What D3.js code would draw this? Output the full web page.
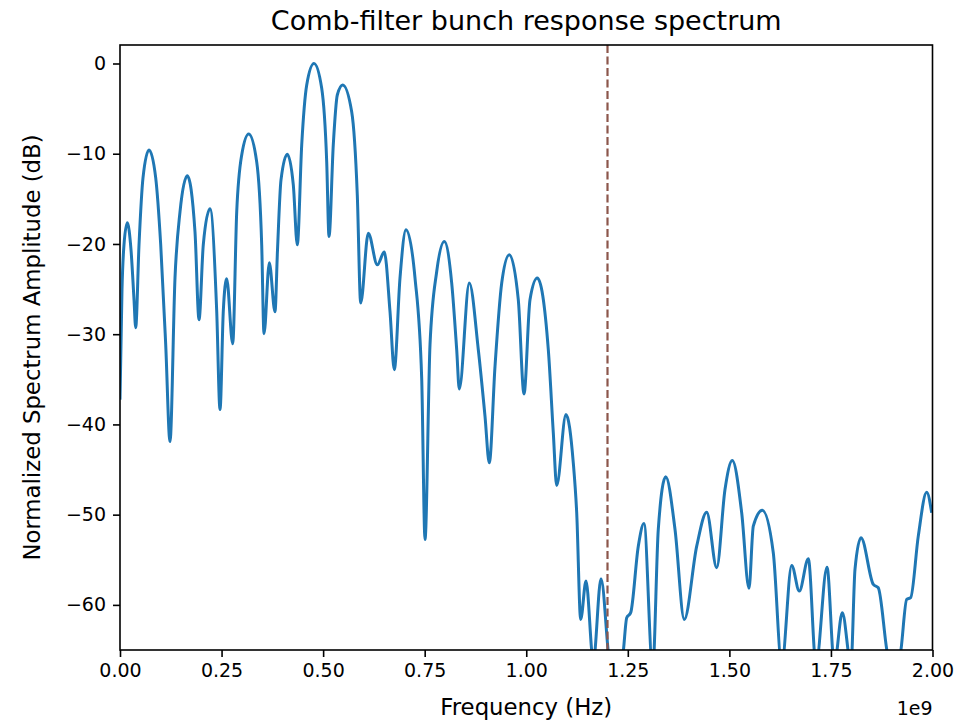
<!DOCTYPE html>
<html>
<head>
<meta charset="utf-8">
<script src="https://cdn.jsdelivr.net/npm/d3@7"></script>
<style>
  body { margin: 0; background: #fff; }
  svg text { font-family: "DejaVu Sans", sans-serif; fill: #000; }
</style>
</head>
<body>
<div id="chart"></div>
<script>
// frequency in units of 1e9 Hz
var freqs = [0.000, 0.0049, 0.0098, 0.0180, 0.0271, 0.0345, 0.0386, 0.0468, 0.0566, 0.0714,
  0.0879, 0.1002, 0.1125, 0.1231, 0.1354, 0.1477, 0.1657, 0.1846, 0.1945, 0.2050,
  0.2215, 0.2380, 0.2462, 0.2543, 0.2626, 0.2774, 0.2873, 0.2996, 0.3168, 0.3365,
  0.3488, 0.3545, 0.3675, 0.3815, 0.3877, 0.3963, 0.4118, 0.4266, 0.4364, 0.4473,
  0.4596, 0.4775, 0.4965, 0.5088, 0.5145, 0.5250, 0.5349, 0.5482, 0.5703, 0.5841,
  0.5925, 0.6112, 0.6334, 0.6506, 0.6646, 0.6752, 0.6892, 0.7040, 0.7262, 0.7426,
  0.7508, 0.7631, 0.7796, 0.7983, 0.8165, 0.8288, 0.8352, 0.8598, 0.8820, 0.8985,
  0.9090, 0.9231, 0.9396, 0.9583, 0.9804, 0.9945, 1.0092, 1.0272, 1.0543, 1.0666,
  1.0749, 1.0978, 1.1158, 1.1242, 1.1340, 1.1471, 1.1651, 1.1840, 1.2044, 1.2209,
  1.2389, 1.2473, 1.2571, 1.2758, 1.2898, 1.3113, 1.3250, 1.3433, 1.3662, 1.3890,
  1.4196, 1.4442, 1.4688, 1.4892, 1.5072, 1.5303, 1.5483, 1.5589, 1.5810, 1.6081,
  1.6288, 1.6534, 1.6721, 1.6943, 1.7132, 1.7403, 1.7583, 1.7780, 1.7994, 1.8092,
  1.8240, 1.8543, 1.8665, 1.8873, 1.9052, 1.9225, 1.9365, 1.9463, 1.9650, 1.9857,
  1.9980];

// normalized amplitude in dB
var amps = [-37.25, -25.07, -20.09, -17.66, -20.65, -26.18, -29.28, -20.09, -12.68, -9.58,
  -12.68, -20.09, -31.16, -41.90, -23.75, -16.44, -12.45, -18.65, -28.40, -20.09,
  -16.11, -27.40, -38.36, -27.40, -23.86, -31.05, -16.44, -10.13, -7.80, -10.90,
  -20.09, -29.94, -22.08, -27.51, -20.65, -12.90, -10.05, -13.45, -20.09, -9.02,
  -2.38, 0.00, -2.75, -10.87, -19.17, -9.02, -3.49, -2.38, -5.34, -14.56,
  -26.55, -18.80, -22.31, -20.90, -27.48, -33.93, -23.78, -18.43, -23.78, -34.85,
  -52.75, -31.16, -23.05, -19.73, -24.33, -31.72, -36.07, -24.33, -31.72, -39.10,
  -44.26, -33.56, -24.33, -21.20, -26.18, -36.62, -26.18, -23.78, -31.72, -40.94,
  -46.77, -38.91, -44.26, -49.79, -61.61, -57.36, -66.25, -57.10, -66.25, -69.35,
  -65.15, -61.42, -60.86, -53.49, -50.98, -67.14, -51.64, -45.81, -51.64, -61.61,
  -53.49, -49.73, -55.88, -47.21, -44.00, -49.79, -58.17, -51.28, -49.51, -54.22,
  -66.59, -55.63, -58.47, -54.89, -66.59, -55.82, -66.59, -60.86, -66.59, -56.07,
  -52.56, -57.73, -58.10, -64.93, -69.35, -64.93, -59.39, -59.20, -52.38, -47.51,
  -49.79];

var xTicks = [0, 0.25, 0.5, 0.75, 1.0, 1.25, 1.5, 1.75, 2.0];
var xTickLabels = ["0.00", "0.25", "0.50", "0.75", "1.00", "1.25", "1.50", "1.75", "2.00"];
var yTicks = [0, -10, -20, -30, -40, -50, -60];
var cutoff = [1.2];

var W = 973, H = 723;
var margin = {top: 45, right: 40.5, bottom: 73, left: 120};
var width = W - margin.left - margin.right;
var height = H - margin.top - margin.bottom;

var svg = d3.select("#chart").append("svg")
  .attr("width", W)
  .attr("height", H);

var g = svg.append("g")
  .attr("transform", "translate(" + margin.left + "," + margin.top + ")");

var x = d3.scaleLinear().domain([0, 2.0]).range([0, width]);
var y = d3.scaleLinear().domain([-65, 2.05]).range([height, 0]);

g.append("clipPath").attr("id", "clip")
  .append("rect").attr("width", width).attr("height", height);

var data = freqs.map(function(f, i) { return {f: f, a: amps[i]}; });

var line = d3.line()
  .curve(d3.curveMonotoneX)
  .x(function(d) { return x(d.f); })
  .y(function(d) { return y(d.a); });

g.append("path")
  .datum(data)
  .attr("clip-path", "url(#clip)")
  .attr("fill", "none")
  .attr("stroke", "#1f77b4")
  .attr("stroke-width", 3)
  .attr("stroke-linejoin", "round")
  .attr("d", line);

// cutoff marker
g.selectAll(".cut")
  .data(cutoff)
  .enter().append("line")
  .attr("class", "cut")
  .attr("x1", function(d) { return x(d); })
  .attr("x2", function(d) { return x(d); })
  .attr("y1", 0)
  .attr("y2", height)
  .attr("stroke", "#8c564b")
  .attr("stroke-width", 2.2)
  .attr("stroke-dasharray", "8,3.5");

// axes
var xAxis = d3.axisBottom(x)
  .tickValues(xTicks)
  .tickFormat(function(d, i) { return xTickLabels[i]; })
  .tickSize(7)
  .tickPadding(7);

var yAxis = d3.axisLeft(y)
  .tickValues(yTicks)
  .tickFormat(function(d) { return d < 0 ? "\u2212" + Math.abs(d) : d; })
  .tickSize(7)
  .tickPadding(7);

var gx = g.append("g")
  .attr("transform", "translate(0," + height + ")")
  .call(xAxis);
var gy = g.append("g").call(yAxis);

[gx, gy].forEach(function(ax) {
  ax.select(".domain").remove();
  ax.selectAll(".tick line").attr("stroke", "#000").attr("stroke-width", 1.6);
  ax.selectAll(".tick text").style("font-size", "19px").attr("fill", "#000");
});

// frame
g.append("rect")
  .attr("width", width)
  .attr("height", height)
  .attr("fill", "none")
  .attr("stroke", "#000")
  .attr("stroke-width", 1.6);

// labels
svg.append("text")
  .attr("x", margin.left + width / 2)
  .attr("y", 30)
  .attr("text-anchor", "middle")
  .style("font-size", "27px")
  .text("Comb-filter bunch response spectrum");

svg.append("text")
  .attr("x", margin.left + width / 2)
  .attr("y", 715)
  .attr("text-anchor", "middle")
  .style("font-size", "22.8px")
  .text("Frequency (Hz)");

svg.append("text")
  .attr("x", margin.left + width)
  .attr("y", 715)
  .attr("text-anchor", "end")
  .style("font-size", "19px")
  .text("1e9");

svg.append("text")
  .attr("transform", "translate(40," + (margin.top + height / 2) + ") rotate(-90)")
  .attr("text-anchor", "middle")
  .style("font-size", "22.8px")
  .text("Normalized Spectrum Amplitude (dB)");
</script>
</body>
</html>
